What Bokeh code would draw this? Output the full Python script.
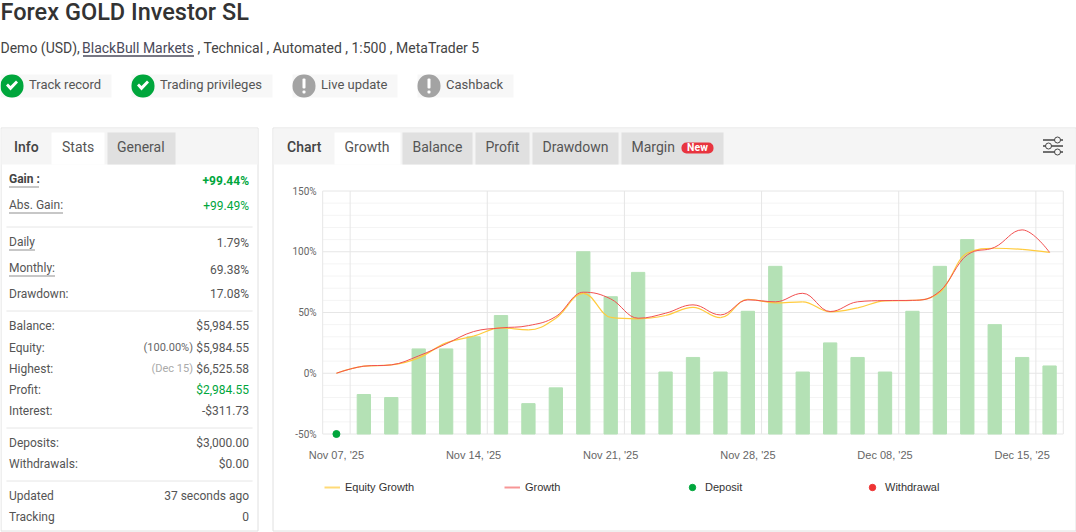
from bokeh.embed import file_html
from bokeh.models import BoxAnnotation, ColumnDataSource, FixedTicker, Label, Legend, LegendItem, LinearAxis, PolyAnnotation, Range1d
from bokeh.plotting import figure
from bokeh.resources import INLINE

days = list(range(27))
tick_days = [0, 5, 10, 15, 20, 25]
tick_labels = ["Nov 07, '25", "Nov 14, '25", "Nov 21, '25", "Nov 28, '25", "Dec 08, '25", "Dec 15, '25"]
y_ticks = [-50, 0, 50, 100, 150]
bar_values = [-17.5, -20, 20, 20, 30, 47.5, -25, -12, 100, 63, 83, 1, 13, 1, 51, 88, 1, 25, 13, 1, 51, 88, 110, 40, 13, 6]
growth = [0, 5.8, 6.9, 14.3, 24.2, 34.3, 37.3, 39.2, 46.7, 66.7, 61.2, 45.3, 49.4, 56.3, 48, 60.4, 58.8, 65.8, 50.8, 58.8, 59.8, 60, 67.5, 97.4, 103.7, 118, 99.44]
equity = [0, 5.8, 6.9, 12.7, 25, 30.5, 37.3, 35.7, 45.3, 65.8, 46, 44.8, 47.5, 54.3, 45.8, 60.9, 57.9, 58.8, 50.5, 53.8, 59.6, 60, 66.7, 99, 102.9, 102, 99.49]
deposit_day = [0]
deposit_value = [-50]

stat_names = ["Balance:", "Equity:", "Highest:", "Profit:", "Interest:", "Deposits:", "Withdrawals:", "Updated", "Tracking"]
stat_values = ["$5,984.55", "$5,984.55", "$6,525.58", "$2,984.55", "-$311.73", "$3,000.00", "$0.00", "37 seconds ago", "0"]
stat_rows = [326, 348, 369, 390, 411, 443, 464, 496, 517]
badges = ["Track record", "Trading privileges", "Live update", "Cashback"]
tabs = ["Growth", "Balance", "Profit", "Drawdown", "Margin"]

FONT = "Roboto"
GREEN = "#00a63c"
WIDTH, HEIGHT = 1076, 532
# where the chart's plot area sits on the page
LEFT, RIGHT, TOP, BOTTOM = 322.2, 1062.8, 190.5, 433.5
# page furniture below is laid out with these offsets taken off
TEXT_DX, TEXT_DY, BOX_D = 1.5, 2, 1


def spline(xs, ys):
    # same control points as a highcharts spline
    rows = dict(x0=[], y0=[], x1=[], y1=[], cx0=[], cy0=[], cx1=[], cy1=[])
    ctrl = []
    for i in range(len(xs)):
        if i == 0 or i == len(xs) - 1:
            ctrl.append((xs[i], ys[i], xs[i], ys[i]))
            continue
        lx = (1.5 * xs[i] + xs[i - 1]) / 2.5
        ly = (1.5 * ys[i] + ys[i - 1]) / 2.5
        rx = (1.5 * xs[i] + xs[i + 1]) / 2.5
        ry = (1.5 * ys[i] + ys[i + 1]) / 2.5
        fix = (ry - ly) * (rx - xs[i]) / (rx - lx) + ys[i] - ry
        ly += fix
        ry += fix
        if ly > ys[i - 1] and ly > ys[i]:
            ly = max(ys[i - 1], ys[i])
            ry = 2 * ys[i] - ly
        elif ly < ys[i - 1] and ly < ys[i]:
            ly = min(ys[i - 1], ys[i])
            ry = 2 * ys[i] - ly
        if ry > ys[i + 1] and ry > ys[i]:
            ry = max(ys[i + 1], ys[i])
            ly = 2 * ys[i] - ry
        elif ry < ys[i + 1] and ry < ys[i]:
            ry = min(ys[i + 1], ys[i])
            ly = 2 * ys[i] - ry
        ctrl.append((lx, ly, rx, ry))
    for i in range(len(xs) - 1):
        rows["x0"].append(xs[i])
        rows["y0"].append(ys[i])
        rows["x1"].append(xs[i + 1])
        rows["y1"].append(ys[i + 1])
        rows["cx0"].append(ctrl[i][2])
        rows["cy0"].append(ctrl[i][3])
        rows["cx1"].append(ctrl[i + 1][0])
        rows["cy1"].append(ctrl[i + 1][1])
    return ColumnDataSource(rows)


# the frame fills the page, the chart gets its own scales inside it
p = figure(
    width=WIDTH,
    height=HEIGHT,
    x_range=(0, WIDTH),
    y_range=(HEIGHT, 0),
    x_axis_type=None,
    y_axis_type=None,
    tools="",
    toolbar_location=None,
    output_backend="svg",
    min_border=0,
    outline_line_color=None,
)
day_w = (RIGHT - LEFT) / 27
pct_h = 200 / (BOTTOM - TOP)
p.extra_x_ranges["day"] = Range1d(-0.5 - LEFT / day_w, 26.5 + (WIDTH - RIGHT) / day_w)
p.extra_y_ranges["pct"] = Range1d(-50 - (HEIGHT - BOTTOM) * pct_h, 150 + TOP * pct_h)
chart = dict(x_range_name="day", y_range_name="pct")

xaxis = LinearAxis(ticker=FixedTicker(ticks=tick_days), fixed_location=-50, **chart)
xaxis.major_label_overrides = dict(zip(tick_days, tick_labels))
xaxis.major_label_text_font = "Liberation Sans"
xaxis.major_label_text_font_size = "11px"
xaxis.major_label_text_color = "#666666"
xaxis.major_label_standoff = 9
xaxis.axis_line_color = None
xaxis.major_tick_line_color = None
xaxis.minor_tick_line_color = None
p.add_layout(xaxis, "below")

yaxis = LinearAxis(ticker=FixedTicker(ticks=y_ticks), fixed_location=-0.5, **chart)
yaxis.major_label_overrides = {v: f"{v}%" for v in y_ticks}
yaxis.major_label_text_font = FONT
yaxis.major_label_text_font_size = "10px"
yaxis.major_label_text_color = "#666666"
yaxis.major_label_standoff = 0
yaxis.axis_line_color = None
yaxis.major_tick_line_color = None
yaxis.minor_tick_line_color = None
p.add_layout(yaxis, "left")

minor = [v for v in range(-50, 150, 10) if v not in y_ticks]
p.segment(-0.5, minor, 26.5, minor, line_color="#f4f4f4", **chart)
p.segment(-0.5, y_ticks, 26.5, y_ticks, line_color="#e6e6e6", **chart)
grid_days = [d + 0.5 for d in tick_days]
p.segment(grid_days, -50, grid_days, 150, line_color="#e6e6e6", **chart)
p.segment([-0.5, 26.5], -50, [-0.5, 26.5], 150, line_color="#e6e6e6", **chart)

p.vbar(x=days[1:], top=bar_values, bottom=-50, width=0.485, color="#b4e1b5", **chart)
p.bezier("x0", "y0", "x1", "y1", "cx0", "cy0", "cx1", "cy1", source=spline(days, equity), line_color="#ffcb3d", line_width=1.2, **chart)
p.bezier("x0", "y0", "x1", "y1", "cx0", "cy0", "cx1", "cy1", source=spline(days, growth), line_color="#f25050", line_width=1, **chart)
dep = p.scatter(deposit_day, deposit_value, size=7, color=GREEN, **chart)

# legend keys only, nothing of these lands on the plot
gap = [float("nan")]
key_eq = p.line(gap, gap, line_color="#ffcb3d", line_width=2, line_alpha=0.7)
key_gr = p.line(gap, gap, line_color="#f25050", line_width=2, line_alpha=0.6)
key_wd = p.scatter(gap, gap, size=7, color="#ee3333")
legend = Legend(
    items=[
        LegendItem(label="Equity Growth", renderers=[key_eq]),
        LegendItem(label="Growth", renderers=[key_gr]),
        LegendItem(label="Deposit", renderers=[dep]),
        LegendItem(label="Withdrawal", renderers=[key_wd]),
    ],
    orientation="horizontal",
    location=(324, 36.5),
    glyph_width=16,
    glyph_height=18,
    label_standoff=5,
    label_width=159,
    spacing=0,
    margin=0,
    padding=0,
    border_line_color=None,
    background_fill_color=None,
    label_text_font="Liberation Sans",
    label_text_font_size="11px",
    label_text_color="#333333",
)
p.add_layout(legend, "center")


def text(x, y, s, size=12, color="#555555", align="left", font=FONT, style="normal"):
    p.add_layout(Label(x=x - TEXT_DX, y=y - TEXT_DY, x_units="canvas", y_units="canvas", text=s, text_font=font,
                       text_font_size=f"{size}px", text_color=color, text_align=align,
                       text_baseline="middle", text_font_style=style))


def box(x0, y0, x1, y1, fill=None, line=None, radius=0):
    p.add_layout(BoxAnnotation(left=x0 - BOX_D, right=x1 - BOX_D, top=y0 - BOX_D, bottom=y1 - BOX_D,
                               left_units="canvas", right_units="canvas",
                               top_units="canvas", bottom_units="canvas", fill_color=fill, fill_alpha=1 if fill else 0,
                               line_color=line, line_alpha=1 if line else 0, line_width=1,
                               border_radius=radius))


# page header
text(1.5, 13.5, "Forex GOLD Investor SL", size=23.5, color="#333333", font="Roboto Medium")
text(1.5, 49, "Demo (USD),", size=14, color="#444444")
text(83, 49, "BlackBull Markets", size=14, color="#4a4a5a")
box(83.5, 56.5, 194.5, 56.5, line="#4a4a5a")
text(198.5, 49, ", Technical , Automated , 1:500 , MetaTrader 5", size=14, color="#444444")

badge_spans = [(1, 112), (132, 273), (293, 398), (418, 514)]
badge_ok = [True, True, False, False]
for name, (x0, x1), ok in zip(badges, badge_spans, badge_ok):
    box(x0, 75, x1, 98, fill="#f7f7f7")
    box(x0, 75, x0 + 23, 98, fill=GREEN if ok else "#a3a3a3", radius=11)
    c = x0 + 11.5
    if ok:
        xs = [c - BOX_D + dx for dx in [-6, -4, -1.5, 4, 6, -1.5]]
        ys = [85, 83, 85.5, 80, 82, 90]
        p.add_layout(PolyAnnotation(xs=xs, ys=ys, xs_units="canvas", ys_units="canvas",
                                    fill_color="white", fill_alpha=1, line_color=None))
    else:
        box(c - 1.5, 79, c + 1.5, 89, fill="white", radius=1)
        box(c - 1.5, 91, c + 1.5, 94, fill="white", radius=1)
    text(x0 + 29, 86, name, size=13)

# stats panel
box(1.5, 128.5, 258.5, 531.5, fill="white", line="#e0e0e0")
box(2, 129, 258, 165, fill="#f5f5f5")
text(15, 148, "Info", size=14, color="#444444", font="Roboto Medium")
box(52, 133, 105, 165, fill="white")
text(63, 148, "Stats", size=14)
box(108, 133, 176, 165, fill="#e0e0e0")
text(118, 148, "General", size=14)

text(10, 180, "Gain :", color="#444444", style="bold")
text(250, 182, "+99.44%", color=GREEN, align="right", style="bold")
text(10, 206, "Abs. Gain:")
text(250, 207.5, "+99.49%", color=GREEN, align="right")
text(10, 243, "Daily")
text(250, 244.5, "1.79%", align="right")
text(10, 269, "Monthly:")
text(250, 271.5, "69.38%", align="right")
text(10, 295, "Drawdown:")
text(250, 295, "17.08%", align="right")
for x1, y in [(40, 187), (63, 213), (35, 250), (55, 276)]:
    for x in range(10, x1, 2):
        box(x, y, x + 1, y + 1, fill="#222222")
for y in [227.5, 311.5, 428.5, 481.5]:
    box(7, y, 253, y, line="#eeeeee")
for name, value, y in zip(stat_names, stat_values, stat_rows):
    text(10, y + 1, name)
    text(250, y + 1, value, align="right", color=GREEN if name == "Profit:" else "#555555")
text(194, 349, "(100.00%)", size=11, align="right", color="#666666")
text(194, 370, "(Dec 15)", size=11, align="right", color="#aaaaaa")

# chart panel
box(273.5, 128.5, 1076.5, 531.5, line="#e0e0e0")
box(274, 129, 1076, 165, fill="#f5f5f5")
text(288, 148, "Chart", size=14, color="#444444", font="Roboto Medium")
tab_spans = [(335, 401), (403, 473), (476, 530), (533, 619), (622, 724)]
for i, (name, (x0, x1)) in enumerate(zip(tabs, tab_spans)):
    box(x0, 133, x1, 165, fill="white" if i == 0 else "#e0e0e0")
    text(x0 + 10.5, 148, name, size=14)
box(682, 143, 714, 154, fill="#e8343f", radius=5)
text(698.5, 148.5, "New", size=10.5, color="white", align="center", style="bold")

for y, cx in [(140.5, 1058), (146.5, 1049), (152.5, 1058)]:
    box(1043.5, y, 1063.5, y, line="#444444")
    box(cx - 3, y - 3, cx + 3, y + 3, fill="#f5f5f5", line="#444444", radius=3)

open("out.html", "w").write(file_html(p, INLINE))
